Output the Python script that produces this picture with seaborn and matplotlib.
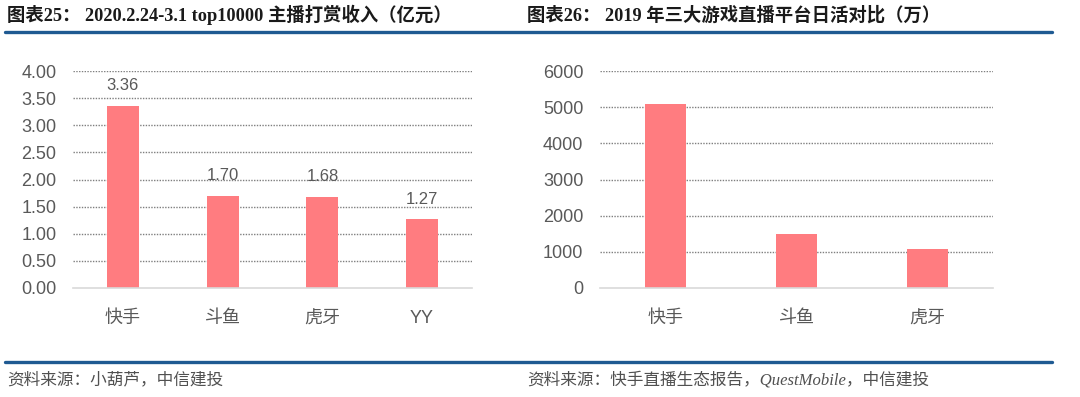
import matplotlib
matplotlib.use("Agg")
import matplotlib.pyplot as plt
import seaborn as sns
import pandas as pd
from matplotlib.lines import Line2D

# ---- data ----
left_categories = ["快手", "斗鱼", "虎牙", "YY"]
left_values = [3.36, 1.70, 1.68, 1.27]
left_yticks = [0.0, 0.5, 1.0, 1.5, 2.0, 2.5, 3.0, 3.5, 4.0]

right_categories = ["快手", "斗鱼", "虎牙"]
right_values = [5100, 1500, 1080]
right_yticks = [0, 1000, 2000, 3000, 4000, 5000, 6000]

left_title = "图表25： 2020.2.24-3.1 top10000 主播打赏收入（亿元）"
right_title = "图表26： 2019 年三大游戏直播平台日活对比（万）"
left_source = "资料来源：小葫芦，中信建投"
right_source = "资料来源：快手直播生态报告，QuestMobile，中信建投"

sns.set_theme(style="white")
plt.rcParams['font.family'] = ['Liberation Sans', 'Noto Sans CJK SC', 'DejaVu Sans']

BAR = "#FF7C80"
TICK = "#595959"
BLUE = "#1F5A92"

W, H = 1080, 397
fig = plt.figure(figsize=(W / 100, H / 100), dpi=100)

def fx(px):
    return px / W

def fy(py):
    return 1 - py / H

ax1 = fig.add_axes([fx(73), fy(288), fx(472 - 73), fy(71) - fy(288)])
ax2 = fig.add_axes([fx(600), fy(288), fx(993 - 600), fy(71) - fy(288)])

df1 = pd.DataFrame({"cat": left_categories, "val": left_values})
df2 = pd.DataFrame({"cat": right_categories, "val": right_values})

sns.barplot(data=df1, x="cat", y="val", ax=ax1, color=BAR, width=0.32,
            saturation=1, edgecolor="none")
sns.barplot(data=df2, x="cat", y="val", ax=ax2, color=BAR, width=0.31,
            saturation=1, edgecolor="none")

ax1.bar_label(ax1.containers[0], fmt="%.2f", padding=9, fontsize=12, color=TICK)

def style(ax, ticks, fmt, n):
    ax.set_ylim(ticks[0], ticks[-1])
    ax.set_xlim(-0.5, n - 0.5)
    ax.set_yticks(ticks)
    ax.set_yticklabels([fmt(t) for t in ticks])
    ax.set_xlabel("")
    ax.set_ylabel("")
    for s in ["top", "right", "left"]:
        ax.spines[s].set_visible(False)
    ax.spines["bottom"].set_color("#D9D9D9")
    ax.spines["bottom"].set_linewidth(1.2)
    ax.tick_params(axis="y", length=0, pad=12, labelsize=13, colors=TICK)
    ax.tick_params(axis="x", length=0, pad=16, labelsize=13, colors=TICK)
    for t in ticks[1:]:
        ax.axhline(t, color="#7F7F7F", lw=1.0, ls=(0, (1, 1)), zorder=0)
    ax.set_axisbelow(True)

style(ax1, left_yticks, lambda t: f"{t:.2f}", len(left_categories))
style(ax2, right_yticks, lambda t: f"{t:d}", len(right_categories))

title_font = ['Liberation Serif', 'Noto Sans CJK SC']
fig.text(fx(7), fy(15), left_title, fontsize=13.2, fontweight="bold",
         family=title_font, va="center", ha="left", color="#1a1a1a")
fig.text(fx(527), fy(15), right_title, fontsize=13.2, fontweight="bold",
         family=title_font, va="center", ha="left", color="#1a1a1a")

fig.add_artist(Line2D([fx(5), fx(1052)], [fy(32), fy(32)], color=BLUE, lw=2.4,
                      transform=fig.transFigure))
fig.add_artist(Line2D([fx(5), fx(1052)], [fy(362), fy(362)], color=BLUE, lw=2.4,
                      transform=fig.transFigure))

src_font = ['Liberation Serif', 'Noto Sans CJK SC']
fig.text(fx(7), fy(380), left_source, fontsize=12, style="italic",
         family=src_font, va="center", ha="left", color="#505050")
fig.text(fx(527), fy(380), right_source, fontsize=12, style="italic",
         family=src_font, va="center", ha="left", color="#505050")

fig.savefig("out.png", dpi=100)
